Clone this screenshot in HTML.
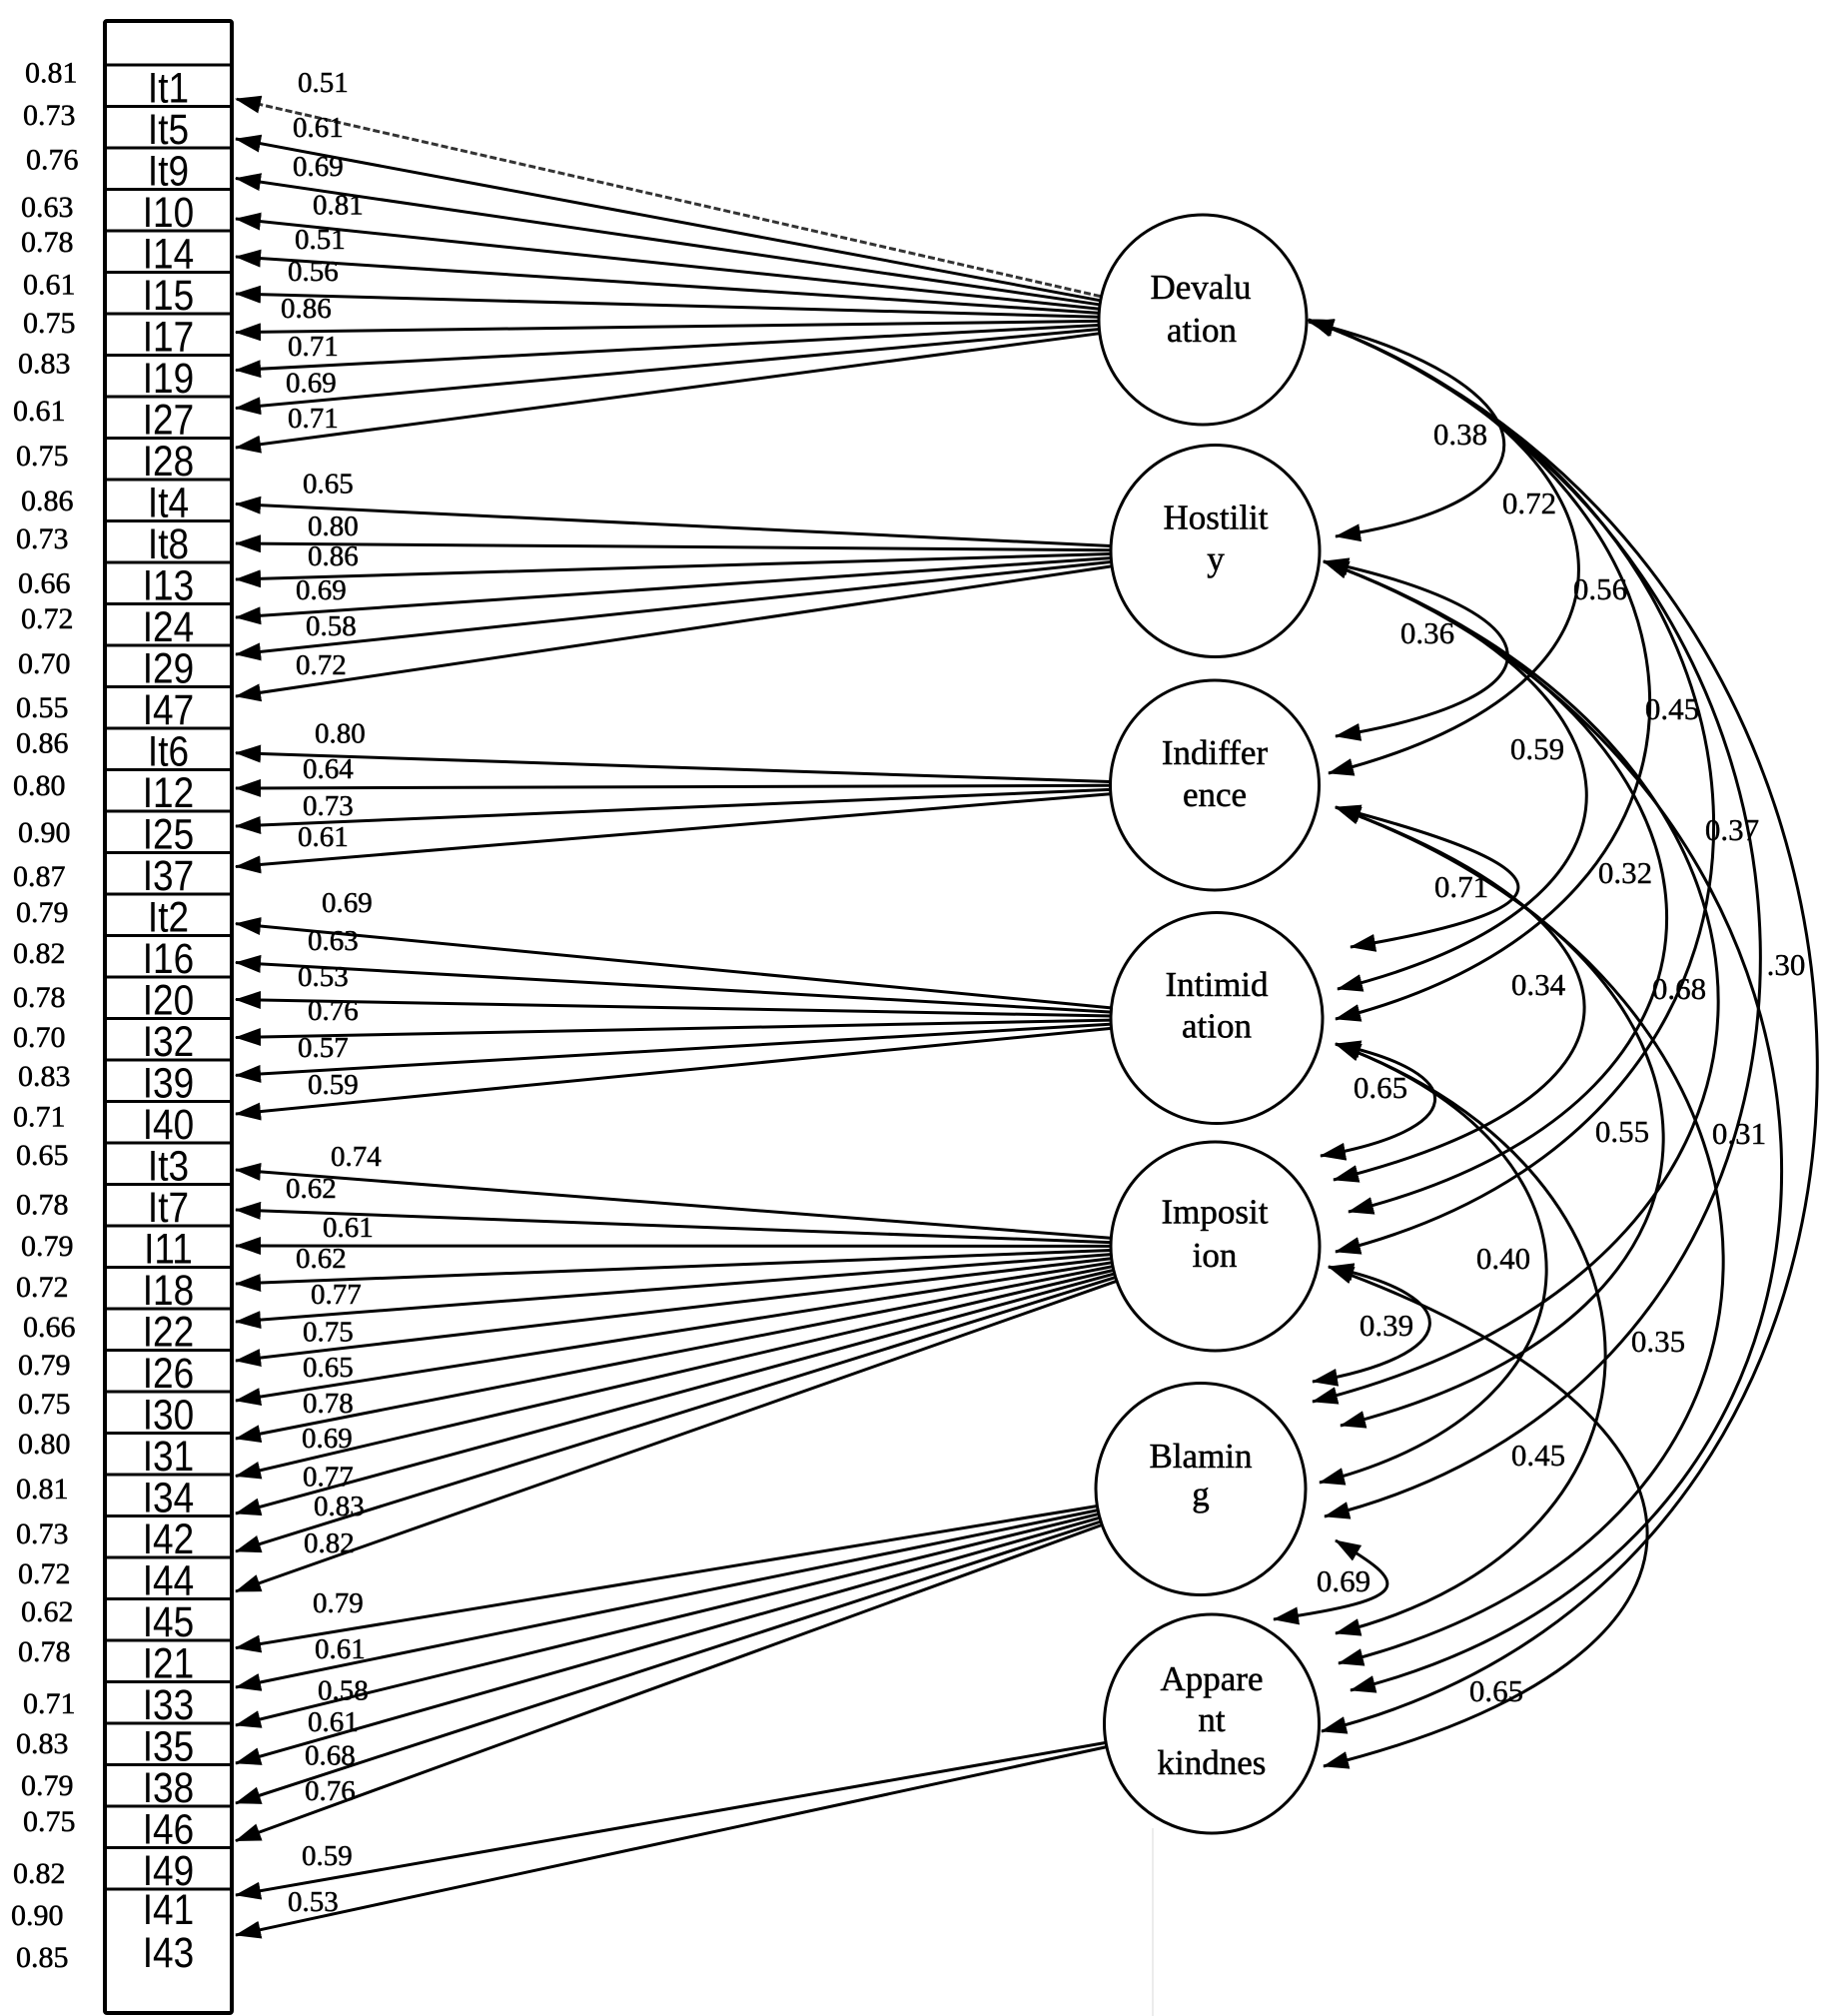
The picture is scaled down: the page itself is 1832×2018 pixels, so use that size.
<!DOCTYPE html>
<html><head><meta charset="utf-8">
<style>html,body{margin:0;padding:0;background:#fff}svg{display:block}</style>
</head><body>
<svg width="1832" height="2018" viewBox="0 0 1832 2018" xmlns="http://www.w3.org/2000/svg">
<defs>
<marker id="ah" viewBox="0 0 26 18" refX="25" refY="9" markerWidth="26" markerHeight="18" markerUnits="userSpaceOnUse" orient="auto-start-reverse"><path d="M0,0 L26,9 L0,18 z" fill="#000"/></marker>
</defs>
<rect width="1832" height="2018" fill="#fff"/>
<line x1="1154" y1="1830" x2="1154" y2="2018" stroke="#ececec" stroke-width="2"/>

<!-- item box -->
<rect x="105" y="21" width="127" height="1994" fill="#fff" stroke="#000" stroke-width="4" rx="2"/>
<path stroke="#000" stroke-width="3" fill="none" d="M105 65H232M105 106.5H232M105 148H232M105 189.5H232M105 231H232M105 272.5H232M105 314H232M105 355.5H232M105 397H232M105 438.5H232M105 480H232M105 521.5H232M105 563H232M105 604.5H232M105 646H232M105 687.5H232M105 729H232M105 770.5H232M105 812H232M105 853.5H232M105 895H232M105 936.5H232M105 978H232M105 1019.5H232M105 1061H232M105 1102.5H232M105 1144H232M105 1185.5H232M105 1227H232M105 1268.5H232M105 1310H232M105 1351.5H232M105 1393H232M105 1434.5H232M105 1476H232M105 1517.5H232M105 1559H232M105 1600.5H232M105 1642H232M105 1683.5H232M105 1725H232M105 1766.5H232M105 1808H232M105 1849.5H232M105 1891H232"/>

<g transform="scale(1,1.15)" font-family="'Liberation Sans', Arial, sans-serif" font-size="37" text-anchor="middle" fill="#000">
<text x="168.5" y="89.13">It1</text>
<text x="168.5" y="125.22">It5</text>
<text x="168.5" y="161.30">It9</text>
<text x="168.5" y="197.39">I10</text>
<text x="168.5" y="233.48">I14</text>
<text x="168.5" y="269.57">I15</text>
<text x="168.5" y="305.65">I17</text>
<text x="168.5" y="341.74">I19</text>
<text x="168.5" y="377.83">I27</text>
<text x="168.5" y="413.91">I28</text>
<text x="168.5" y="450.0">It4</text>
<text x="168.5" y="486.09">It8</text>
<text x="168.5" y="522.17">I13</text>
<text x="168.5" y="558.26">I24</text>
<text x="168.5" y="594.35">I29</text>
<text x="168.5" y="630.43">I47</text>
<text x="168.5" y="666.52">It6</text>
<text x="168.5" y="702.61">I12</text>
<text x="168.5" y="738.70">I25</text>
<text x="168.5" y="774.78">I37</text>
<text x="168.5" y="810.87">It2</text>
<text x="168.5" y="846.96">I16</text>
<text x="168.5" y="883.04">I20</text>
<text x="168.5" y="919.13">I32</text>
<text x="168.5" y="955.22">I39</text>
<text x="168.5" y="991.30">I40</text>
<text x="168.5" y="1027.39">It3</text>
<text x="168.5" y="1063.48">It7</text>
<text x="168.5" y="1099.57">I11</text>
<text x="168.5" y="1135.65">I18</text>
<text x="168.5" y="1171.74">I22</text>
<text x="168.5" y="1207.83">I26</text>
<text x="168.5" y="1243.91">I30</text>
<text x="168.5" y="1280.0">I31</text>
<text x="168.5" y="1316.09">I34</text>
<text x="168.5" y="1352.17">I42</text>
<text x="168.5" y="1388.26">I44</text>
<text x="168.5" y="1424.35">I45</text>
<text x="168.5" y="1460.43">I21</text>
<text x="168.5" y="1496.52">I33</text>
<text x="168.5" y="1532.61">I35</text>
<text x="168.5" y="1568.70">I38</text>
<text x="168.5" y="1604.78">I46</text>
<text x="168.5" y="1640.87">I49</text>
<text x="168.5" y="1674.78">I41</text>
<text x="168.5" y="1712.17">I43</text>
</g>

<!-- error variances -->
<g font-family="'Liberation Serif', 'Times New Roman', serif" font-size="30" fill="#000" stroke="#000" stroke-width="0.5">
<text x="25" y="82.4">0.81</text>
<text x="23" y="124.8">0.73</text>
<text x="26" y="169.5">0.76</text>
<text x="21" y="217">0.63</text>
<text x="21" y="252">0.78</text>
<text x="23" y="294.5">0.61</text>
<text x="23" y="333">0.75</text>
<text x="18" y="373.5">0.83</text>
<text x="13" y="421">0.61</text>
<text x="16" y="466">0.75</text>
<text x="21" y="511">0.86</text>
<text x="16" y="549">0.73</text>
<text x="18" y="593.6">0.66</text>
<text x="21" y="629">0.72</text>
<text x="18" y="674">0.70</text>
<text x="16" y="717.8">0.55</text>
<text x="16" y="753.5">0.86</text>
<text x="13" y="796">0.80</text>
<text x="18" y="843">0.90</text>
<text x="13" y="887">0.87</text>
<text x="16" y="923">0.79</text>
<text x="13" y="964">0.82</text>
<text x="13" y="1008">0.78</text>
<text x="13" y="1048">0.70</text>
<text x="18" y="1087">0.83</text>
<text x="13" y="1127.6">0.71</text>
<text x="16" y="1166">0.65</text>
<text x="16" y="1215.5">0.78</text>
<text x="21" y="1257">0.79</text>
<text x="16" y="1298">0.72</text>
<text x="23" y="1338">0.66</text>
<text x="18" y="1376">0.79</text>
<text x="18" y="1415">0.75</text>
<text x="18" y="1455">0.80</text>
<text x="16" y="1500">0.81</text>
<text x="16" y="1545">0.73</text>
<text x="18" y="1585">0.72</text>
<text x="21" y="1623">0.62</text>
<text x="18" y="1663">0.78</text>
<text x="23" y="1715">0.71</text>
<text x="16" y="1755">0.83</text>
<text x="21" y="1797">0.79</text>
<text x="23" y="1833">0.75</text>
<text x="13" y="1885">0.82</text>
<text x="11" y="1927">0.90</text>
<text x="16" y="1969">0.85</text>
</g>

<!-- loading lines -->
<g stroke="#000" stroke-width="3" fill="none">
<line x1="1101.6" y1="296.6" x2="236" y2="99" stroke="#333" stroke-dasharray="7 3" marker-end="url(#ah)"/>
<line x1="1100.8" y1="300.7" x2="236" y2="139" marker-end="url(#ah)"/>
<line x1="1100.1" y1="304.8" x2="236" y2="178.5" marker-end="url(#ah)"/>
<line x1="1099.6" y1="309.1" x2="236" y2="219" marker-end="url(#ah)"/>
<line x1="1099.2" y1="313.2" x2="236" y2="257" marker-end="url(#ah)"/>
<line x1="1099" y1="317.2" x2="236" y2="294" marker-end="url(#ah)"/>
<line x1="1099" y1="321.4" x2="236" y2="332.6" marker-end="url(#ah)"/>
<line x1="1099.1" y1="325.5" x2="236" y2="370.5" marker-end="url(#ah)"/>
<line x1="1099.4" y1="329.6" x2="236" y2="408.5" marker-end="url(#ah)"/>
<line x1="1099.9" y1="333.8" x2="236" y2="448" marker-end="url(#ah)"/>

<line x1="1111.6" y1="546.5" x2="236" y2="504.5" marker-end="url(#ah)"/>
<line x1="1111.5" y1="550.7" x2="236" y2="544" marker-end="url(#ah)"/>
<line x1="1111.5" y1="554.5" x2="236" y2="580" marker-end="url(#ah)"/>
<line x1="1111.7" y1="558.6" x2="236" y2="618" marker-end="url(#ah)"/>
<line x1="1112.1" y1="562.5" x2="236" y2="655" marker-end="url(#ah)"/>
<line x1="1112.6" y1="566.9" x2="236" y2="697" marker-end="url(#ah)"/>

<line x1="1111" y1="782.5" x2="236" y2="753.7" marker-end="url(#ah)"/>
<line x1="1111" y1="786.3" x2="236" y2="789" marker-end="url(#ah)"/>
<line x1="1111" y1="790.4" x2="236" y2="827" marker-end="url(#ah)"/>
<line x1="1111.4" y1="794.7" x2="236" y2="867.5" marker-end="url(#ah)"/>

<line x1="1113.5" y1="1009" x2="236" y2="924.6" marker-end="url(#ah)"/>
<line x1="1113.2" y1="1013.1" x2="236" y2="963.5" marker-end="url(#ah)"/>
<line x1="1113" y1="1017" x2="236" y2="1000.5" marker-end="url(#ah)"/>
<line x1="1113" y1="1021.1" x2="236" y2="1038.5" marker-end="url(#ah)"/>
<line x1="1113.2" y1="1025.1" x2="236" y2="1076.4" marker-end="url(#ah)"/>
<line x1="1113.5" y1="1029.2" x2="236" y2="1115" marker-end="url(#ah)"/>

<line x1="1111.8" y1="1239.3" x2="236" y2="1171" marker-end="url(#ah)"/>
<line x1="1111.6" y1="1243.6" x2="236" y2="1211" marker-end="url(#ah)"/>
<line x1="1111.5" y1="1247.4" x2="236" y2="1247" marker-end="url(#ah)"/>
<line x1="1111.6" y1="1251.5" x2="236" y2="1285" marker-end="url(#ah)"/>
<line x1="1111.8" y1="1255.6" x2="236" y2="1323" marker-end="url(#ah)"/>
<line x1="1112.2" y1="1259.7" x2="236" y2="1362" marker-end="url(#ah)"/>
<line x1="1112.8" y1="1263.8" x2="236" y2="1402" marker-end="url(#ah)"/>
<line x1="1113.5" y1="1267.7" x2="236" y2="1440" marker-end="url(#ah)"/>
<line x1="1114.3" y1="1271.5" x2="236" y2="1477.5" marker-end="url(#ah)"/>
<line x1="1115.2" y1="1275.1" x2="236" y2="1515" marker-end="url(#ah)"/>
<line x1="1116.2" y1="1278.7" x2="236" y2="1553" marker-end="url(#ah)"/>
<line x1="1117.5" y1="1282.4" x2="236" y2="1593" marker-end="url(#ah)"/>

<line x1="1098.4" y1="1507.5" x2="236" y2="1649.6" marker-end="url(#ah)"/>
<line x1="1099.2" y1="1511.6" x2="236" y2="1689" marker-end="url(#ah)"/>
<line x1="1100" y1="1515.4" x2="236" y2="1727" marker-end="url(#ah)"/>
<line x1="1101" y1="1519.2" x2="236" y2="1765" marker-end="url(#ah)"/>
<line x1="1102.2" y1="1523" x2="236" y2="1805" marker-end="url(#ah)"/>
<line x1="1103.3" y1="1526.4" x2="236" y2="1842.6" marker-end="url(#ah)"/>

<line x1="1107.1" y1="1744.4" x2="236" y2="1897" marker-end="url(#ah)"/>
<line x1="1107.9" y1="1748.6" x2="236" y2="1937" marker-end="url(#ah)"/>
</g>

<!-- loading labels -->
<g font-family="'Liberation Serif', 'Times New Roman', serif" font-size="29" fill="#000" stroke="#000" stroke-width="0.5">
<text x="298" y="92">0.51</text>
<text x="293" y="137">0.61</text>
<text x="293" y="176">0.69</text>
<text x="313" y="214.5">0.81</text>
<text x="295" y="249">0.51</text>
<text x="288" y="281">0.56</text>
<text x="281" y="318">0.86</text>
<text x="288" y="356">0.71</text>
<text x="286" y="392.6">0.69</text>
<text x="288" y="428">0.71</text>
<text x="303" y="493.5">0.65</text>
<text x="308" y="536">0.80</text>
<text x="308" y="566">0.86</text>
<text x="296" y="600">0.69</text>
<text x="306" y="636">0.58</text>
<text x="296" y="675">0.72</text>
<text x="315" y="743.6">0.80</text>
<text x="303" y="779">0.64</text>
<text x="303" y="816">0.73</text>
<text x="298" y="847">0.61</text>
<text x="322" y="913">0.69</text>
<text x="308" y="951">0.63</text>
<text x="298" y="987">0.53</text>
<text x="308" y="1021">0.76</text>
<text x="298" y="1058">0.57</text>
<text x="308" y="1095">0.59</text>
<text x="331" y="1167">0.74</text>
<text x="286" y="1199">0.62</text>
<text x="323" y="1238">0.61</text>
<text x="296" y="1269">0.62</text>
<text x="311" y="1305">0.77</text>
<text x="303" y="1342.7">0.75</text>
<text x="303" y="1378">0.65</text>
<text x="303" y="1414">0.78</text>
<text x="302" y="1449">0.69</text>
<text x="303" y="1487.5">0.77</text>
<text x="314" y="1517">0.83</text>
<text x="304" y="1554">0.82</text>
<text x="313" y="1614">0.79</text>
<text x="315" y="1660">0.61</text>
<text x="318" y="1701.5">0.58</text>
<text x="308" y="1733">0.61</text>
<text x="305" y="1766.5">0.68</text>
<text x="305" y="1802">0.76</text>
<text x="302" y="1867">0.59</text>
<text x="288" y="1913">0.53</text>
</g>

<!-- latent circles -->
<g fill="#fff" stroke="#000" stroke-width="3">
<ellipse cx="1204" cy="320" rx="104" ry="105"/>
<ellipse cx="1216.5" cy="551.5" rx="104.5" ry="106"/>
<ellipse cx="1216" cy="786" rx="104.5" ry="105"/>
<ellipse cx="1218" cy="1019" rx="106" ry="105.5"/>
<ellipse cx="1216.5" cy="1247.5" rx="104.5" ry="104.5"/>
<ellipse cx="1202" cy="1490.5" rx="105" ry="106"/>
<ellipse cx="1213" cy="1725.5" rx="107.5" ry="109.5"/>
</g>
<g font-family="'Liberation Serif', 'Times New Roman', serif" font-size="35" text-anchor="middle" fill="#000" stroke="#000" stroke-width="0.5">
<text x="1202" y="299">Devalu</text>
<text x="1203" y="342">ation</text>
<text x="1217" y="529.5">Hostilit</text>
<text x="1217" y="571">y</text>
<text x="1216" y="765">Indiffer</text>
<text x="1216" y="807">ence</text>
<text x="1218" y="997">Intimid</text>
<text x="1218" y="1038.5">ation</text>
<text x="1216" y="1224.6">Imposit</text>
<text x="1216" y="1268">ion</text>
<text x="1202" y="1469">Blamin</text>
<text x="1202" y="1507">g</text>
<text x="1213" y="1692">Appare</text>
<text x="1213" y="1733">nt</text>
<text x="1213" y="1776">kindnes</text>
</g>

<!-- covariance arcs -->
<g fill="none" stroke="#000" stroke-width="3">
<path d="M1310,322 C1548,380 1583,500 1337,537" marker-start="url(#ah)" marker-end="url(#ah)"/>
<path d="M1310,320 C1651.3,444.2 1682.2,686.1 1330,774" marker-start="url(#ah)" marker-end="url(#ah)"/>
<path d="M1310,320 C1740,476.4 1780.7,909.3 1337,1020" marker-start="url(#ah)" marker-end="url(#ah)"/>
<path d="M1310,320 C1824,507 1867.4,1120.7 1337,1253" marker-start="url(#ah)" marker-end="url(#ah)"/>
<path d="M1310,320 C1892.9,532.1 1927.5,1367.9 1326,1518" marker-start="url(#ah)" marker-end="url(#ah)"/>
<path d="M1310,320 C1969.7,560 2003.7,1563.2 1323,1733" marker-start="url(#ah)" marker-end="url(#ah)"/>
<path d="M1325,562 C1559,612 1578,697 1337,737" marker-start="url(#ah)" marker-end="url(#ah)"/>
<path d="M1325,562 C1661.1,684.3 1685.8,903.5 1339,990" marker-start="url(#ah)" marker-end="url(#ah)"/>
<path d="M1325,562 C1758.9,719.9 1797.8,1101.3 1350,1213" marker-start="url(#ah)" marker-end="url(#ah)"/>
<path d="M1325,562 C1850.8,753.3 1856.6,1267.6 1314,1403" marker-start="url(#ah)" marker-end="url(#ah)"/>
<path d="M1325,562 C1908.6,774.3 1954.2,1541.8 1352,1692" marker-start="url(#ah)" marker-end="url(#ah)"/>
<path d="M1337,808 C1567,868 1589,908 1352,948" marker-start="url(#ah)" marker-end="url(#ah)"/>
<path d="M1337,808 C1665.2,927.4 1673.7,1096.5 1335,1181" marker-start="url(#ah)" marker-end="url(#ah)"/>
<path d="M1337,808 C1764.3,963.5 1783,1317 1342,1427" marker-start="url(#ah)" marker-end="url(#ah)"/>
<path d="M1337,808 C1844.4,992.6 1863.6,1534.4 1340,1665" marker-start="url(#ah)" marker-end="url(#ah)"/>
<path d="M1337,1045 C1477,1075 1467,1132 1322,1157" marker-start="url(#ah)" marker-end="url(#ah)"/>
<path d="M1337,1045 C1624.5,1149.6 1617.7,1410 1321,1484" marker-start="url(#ah)" marker-end="url(#ah)"/>
<path d="M1337,1045 C1691.5,1174 1702.8,1543.7 1337,1635" marker-start="url(#ah)" marker-end="url(#ah)"/>
<path d="M1330,1268 C1473,1298 1462,1358 1314,1383" marker-start="url(#ah)" marker-end="url(#ah)"/>
<path d="M1330,1268 C1752.1,1421.6 1760.5,1659.3 1325,1768" marker-start="url(#ah)" marker-end="url(#ah)"/>
<path d="M1337,1542 C1410,1585 1420,1600 1275,1621" marker-start="url(#ah)" marker-end="url(#ah)"/>
</g>

<!-- covariance labels -->
<g font-family="'Liberation Serif', 'Times New Roman', serif" font-size="31" text-anchor="middle" fill="#000" stroke="#000" stroke-width="0.4">
<text x="1462" y="445">0.38</text>
<text x="1531" y="514">0.72</text>
<text x="1602" y="600">0.56</text>
<text x="1429" y="644">0.36</text>
<text x="1674" y="720">0.45</text>
<text x="1539" y="760">0.59</text>
<text x="1734" y="841">0.37</text>
<text x="1463" y="898">0.71</text>
<text x="1627" y="884">0.32</text>
<text x="1788" y="976">.30</text>
<text x="1540" y="996">0.34</text>
<text x="1681" y="1000">0.68</text>
<text x="1382" y="1099">0.65</text>
<text x="1624" y="1143">0.55</text>
<text x="1741" y="1145">0.31</text>
<text x="1505" y="1270">0.40</text>
<text x="1388" y="1337">0.39</text>
<text x="1660" y="1353">0.35</text>
<text x="1540" y="1467">0.45</text>
<text x="1345" y="1593">0.69</text>
<text x="1498" y="1703">0.65</text>
</g>
</svg>
</body></html>
